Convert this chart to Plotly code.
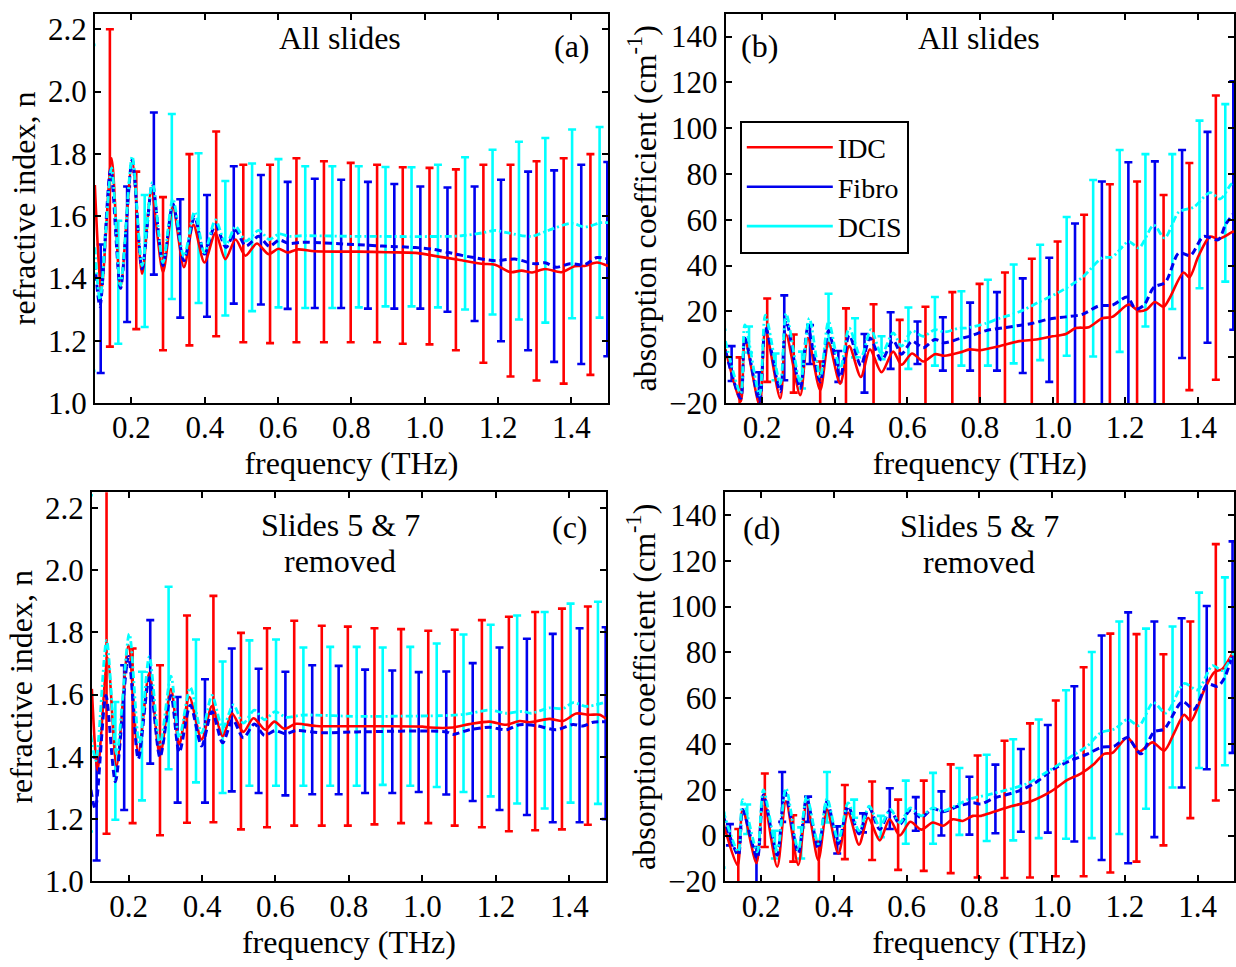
import plotly.graph_objects as go

# ---------------------------------------------------------------------------
# Panel (a): refractive index, all slides
# ---------------------------------------------------------------------------
A_IDC_F = [0.100, 0.118, 0.1456, 0.170, 0.202, 0.229, 0.254, 0.286, 0.313, 0.343,
           0.369, 0.399, 0.429, 0.456, 0.484, 0.511, 0.542, 0.574, 0.601, 0.626,
           0.653, 0.700, 0.820, 0.900, 0.975, 1.038, 1.092, 1.156, 1.192, 1.234,
           1.264, 1.293, 1.328, 1.373, 1.409, 1.436, 1.470, 1.500]
A_IDC_N = [1.700, 1.363, 1.786, 1.373, 1.776, 1.415, 1.680, 1.420, 1.630, 1.436,
           1.572, 1.451, 1.546, 1.462, 1.525, 1.473, 1.512, 1.478, 1.495, 1.483,
           1.493, 1.487, 1.486, 1.484, 1.482, 1.470, 1.460, 1.447, 1.444, 1.420,
           1.425, 1.419, 1.430, 1.420, 1.439, 1.440, 1.451, 1.440]

A_FIB_F = [0.100, 0.114, 0.143, 0.170, 0.202, 0.229, 0.257, 0.286, 0.313, 0.343,
           0.372, 0.399, 0.429, 0.458, 0.484, 0.512, 0.547, 0.576, 0.603, 0.630,
           0.666, 0.820, 0.884, 0.975, 1.020, 1.065, 1.119, 1.192, 1.246, 1.300,
           1.328, 1.359, 1.396, 1.436, 1.470, 1.500]
A_FIB_N = [1.451, 1.310, 1.750, 1.368, 1.781, 1.430, 1.703, 1.441, 1.640, 1.457,
           1.598, 1.478, 1.572, 1.499, 1.554, 1.504, 1.535, 1.503, 1.523, 1.512,
           1.516, 1.508, 1.504, 1.499, 1.494, 1.483, 1.470, 1.457, 1.462, 1.447,
           1.450, 1.436, 1.447, 1.444, 1.467, 1.462]

A_DCIS_F = [0.100, 0.114, 0.1456, 0.170, 0.202, 0.229, 0.257, 0.286, 0.313, 0.343,
            0.372, 0.399, 0.429, 0.458, 0.484, 0.512, 0.547, 0.576, 0.603, 0.630,
            0.666, 0.820, 1.065, 1.101, 1.156, 1.192, 1.228, 1.291, 1.337, 1.400,
            1.437, 1.481, 1.500]
A_DCIS_N = [1.500, 1.331, 1.755, 1.378, 1.792, 1.441, 1.708, 1.451, 1.656, 1.470,
            1.614, 1.483, 1.588, 1.509, 1.567, 1.520, 1.554, 1.525, 1.543, 1.535,
            1.537, 1.535, 1.535, 1.537, 1.546, 1.554, 1.546, 1.535, 1.554, 1.577,
            1.565, 1.579, 1.579]

A_IDC_EB_F = [0.141, 0.213, 0.286, 0.358, 0.431, 0.505, 0.578, 0.650, 0.725, 0.798,
              0.870, 0.940, 1.013, 1.085, 1.160, 1.234, 1.305, 1.379, 1.452]
A_IDC_EB_HI = [2.200, 1.743, 1.661, 1.799, 1.872, 1.765, 1.765, 1.786, 1.776, 1.771,
               1.765, 1.757, 1.755, 1.750, 1.765, 1.765, 1.776, 1.786, 1.799]
A_IDC_EB_LO = [1.181, 1.237, 1.169, 1.185, 1.214, 1.195, 1.192, 1.195, 1.195, 1.195,
               1.195, 1.190, 1.188, 1.169, 1.129, 1.085, 1.072, 1.062, 1.090]

A_FIB_EB_F = [0.116, 0.188, 0.261, 0.333, 0.406, 0.479, 0.553, 0.626, 0.700, 0.772,
              0.845, 0.917, 0.988, 1.062, 1.136, 1.208, 1.282, 1.353, 1.427, 1.498]
A_FIB_EB_HI = [1.509, 1.695, 1.933, 1.654, 1.668, 1.760, 1.732, 1.710, 1.720, 1.717,
               1.710, 1.703, 1.695, 1.692, 1.695, 1.717, 1.743, 1.747, 1.765, 1.774]
A_FIB_EB_LO = [1.096, 1.260, 1.412, 1.274, 1.277, 1.319, 1.316, 1.302, 1.305, 1.305,
               1.303, 1.303, 1.303, 1.293, 1.263, 1.198, 1.169, 1.132, 1.125, 1.150]

A_DCIS_EB_F = [0.091, 0.164, 0.236, 0.310, 0.383, 0.456, 0.529, 0.601, 0.674, 0.748,
               0.820, 0.893, 0.964, 1.036, 1.110, 1.185, 1.257, 1.329, 1.402, 1.477]
A_DCIS_EB_HI = [2.150, 1.585, 1.668, 1.928, 1.802, 1.713, 1.769, 1.783, 1.760, 1.760,
                1.760, 1.758, 1.757, 1.765, 1.789, 1.813, 1.839, 1.851, 1.878, 1.886]
A_DCIS_EB_LO = [1.103, 1.190, 1.244, 1.334, 1.321, 1.281, 1.295, 1.307, 1.305, 1.305,
                1.307, 1.310, 1.310, 1.307, 1.300, 1.284, 1.268, 1.258, 1.272, 1.274]

# ---------------------------------------------------------------------------
# Panel (b): absorption coefficient, all slides
# ---------------------------------------------------------------------------
B_IDC_F = [0.099, 0.141, 0.1525, 0.193, 0.209, 0.250, 0.266, 0.305, 0.326, 0.360,
           0.383, 0.415, 0.440, 0.472, 0.497, 0.529, 0.561, 0.584, 0.613, 0.644,
           0.676, 0.703, 0.744, 0.772, 0.799, 0.854, 0.909, 0.955, 1.000, 1.037,
           1.064, 1.100, 1.137, 1.165, 1.210, 1.238, 1.260, 1.282, 1.306, 1.322,
           1.361, 1.377, 1.402, 1.434, 1.457, 1.492, 1.500]
B_IDC_A = [3.4, -19.4, 7.7, -21.0, 12.0, -18.0, 9.9, -16.6, 8.4, -14.4,
           6.3, -11.6, 4.8, -8.7, 3.4, -6.6, 2.4, -3.3, 1.6, -1.9,
           1.3, 0.6, 2.0, 3.4, 3.0, 4.8, 7.0, 7.7, 9.1, 10.1,
           12.7, 13.1, 17.0, 17.6, 23.0, 20.1, 20.9, 24.1, 22.0, 25.6,
           37.0, 34.8, 44.1, 52.7, 51.6, 54.4, 55.0]

B_FIB_F = [0.099, 0.141, 0.1525, 0.193, 0.209, 0.250, 0.266, 0.305, 0.326, 0.360,
           0.383, 0.415, 0.440, 0.472, 0.497, 0.529, 0.561, 0.584, 0.613, 0.644,
           0.676, 0.703, 0.744, 0.772, 0.817, 0.872, 0.945, 0.991, 1.037, 1.082,
           1.128, 1.165, 1.206, 1.229, 1.252, 1.279, 1.311, 1.348, 1.380, 1.416,
           1.457, 1.476, 1.500]
B_FIB_A = [2.7, -18.0, 8.4, -19.4, 13.4, -15.1, 16.3, -13.7, 12.7, -10.8,
           11.6, -8.7, 9.6, -3.7, 8.4, -1.3, 7.3, 1.3, 7.0, 4.1,
           7.7, 6.3, 8.1, 9.1, 11.6, 13.0, 14.8, 16.7, 17.6, 18.7,
           22.4, 22.7, 26.3, 21.0, 22.7, 30.5, 32.7, 45.5, 44.4, 52.7,
           51.3, 57.7, 63.0]

B_DCIS_F = [0.099, 0.141, 0.1525, 0.193, 0.209, 0.250, 0.266, 0.305, 0.330, 0.360,
            0.383, 0.415, 0.440, 0.472, 0.500, 0.529, 0.561, 0.584, 0.613, 0.644,
            0.676, 0.703, 0.744, 0.762, 0.817, 0.854, 0.909, 0.963, 1.018, 1.082,
            1.137, 1.165, 1.210, 1.238, 1.279, 1.309, 1.348, 1.389, 1.434, 1.462,
            1.492, 1.500]
B_DCIS_A = [7.0, -15.8, 14.1, -16.6, 18.4, -11.6, 19.1, -10.8, 17.0, -8.7,
            15.6, -5.1, 12.7, -0.1, 12.0, 1.3, 10.6, 4.8, 11.5, 9.1,
            12.0, 11.0, 12.7, 12.7, 14.8, 17.0, 19.8, 24.1, 28.4, 34.8,
            43.4, 43.8, 50.5, 47.7, 57.7, 52.0, 63.4, 65.5, 71.9, 69.1,
            75.5, 76.0]

B_IDC_EB_F = [0.138, 0.214, 0.287, 0.360, 0.431, 0.507, 0.579, 0.650, 0.724, 0.799,
              0.869, 0.943, 1.014, 1.087, 1.158, 1.233, 1.306, 1.377, 1.450]
B_IDC_EB_HI = [-0.1, 25.6, 9.9, -1.9, 21.3, 23.1, 16.3, 22.0, 28.4, 32.0,
               37.0, 43.0, 50.5, 62.2, 75.5, 76.7, 70.8, 84.8, 114.3]
B_IDC_EB_LO = [-36.0, -10.8, -15.5, -27.0, -22.0, -31.0, -22.0, -24.0, -24.5, -26.0,
               -26.0, -28.0, -31.0, -36.0, -40.0, -37.0, -27.0, -14.4, -9.9]

B_FIB_EB_F = [0.116, 0.191, 0.261, 0.332, 0.410, 0.482, 0.554, 0.628, 0.698, 0.773,
              0.847, 0.918, 0.991, 1.062, 1.136, 1.209, 1.282, 1.357, 1.427, 1.498]
B_FIB_EB_HI = [4.8, -6.6, 27.0, 14.0, 2.7, 10.1, 19.6, 15.6, 17.4, 23.8,
               28.4, 34.4, 43.4, 58.4, 76.7, 85.1, 85.5, 90.5, 98.4, 120.5]
B_FIB_EB_LO = [-10.4, -31.0, -10.1, -3.0, -10.8, -15.5, -5.1, -3.0, -5.9, -5.9,
               -5.9, -6.9, -10.8, -22.0, -31.7, -33.0, -24.5, -0.4, 6.3, 12.0]

B_DCIS_EB_F = [0.091, 0.164, 0.237, 0.310, 0.383, 0.456, 0.529, 0.603, 0.676, 0.749,
               0.822, 0.893, 0.966, 1.039, 1.112, 1.185, 1.256, 1.330, 1.405, 1.476]
B_DCIS_EB_HI = [12.0, 13.4, 1.6, 2.4, 27.7, 17.0, 9.1, 21.7, 26.3, 28.8,
                33.8, 40.5, 49.1, 61.2, 77.4, 90.5, 88.7, 88.7, 103.3, 110.5]
B_DCIS_EB_LO = [-25.0, 2.0, -10.1, -13.7, 4.8, -0.1, -0.9, -5.1, -3.7, -3.7,
                -3.7, -2.7, -1.3, 0.6, 0.3, 2.3, 13.4, 21.0, 30.1, 33.0]

# ---------------------------------------------------------------------------
# Panel (c): refractive index, slides 5 & 7 removed
# ---------------------------------------------------------------------------
C_IDC_F = [0.100, 0.1156, 0.143, 0.1674, 0.1997, 0.2265, 0.2564, 0.2855, 0.3154, 0.338,
           0.3654, 0.399, 0.4272, 0.4562, 0.4817, 0.5126, 0.540, 0.5725, 0.597, 0.6243,
           0.656, 0.711, 0.820, 1.000, 1.020, 1.083, 1.128, 1.183, 1.228, 1.265,
           1.292, 1.346, 1.383, 1.419, 1.455, 1.483, 1.500]
C_IDC_N = [1.618, 1.357, 1.717, 1.370, 1.758, 1.414, 1.670, 1.404, 1.618, 1.440,
           1.592, 1.456, 1.563, 1.466, 1.539, 1.480, 1.524, 1.487, 1.513, 1.490,
           1.506, 1.499, 1.498, 1.497, 1.494, 1.494, 1.505, 1.513, 1.503, 1.515,
           1.511, 1.522, 1.515, 1.539, 1.535, 1.535, 1.522]

C_FIB_F = [0.0975, 0.1093, 0.1383, 0.164, 0.1997, 0.2265, 0.2564, 0.2855, 0.3154, 0.338,
           0.3681, 0.399, 0.4272, 0.4562, 0.4835, 0.5126, 0.5425, 0.5698, 0.599, 0.627,
           0.656, 0.729, 0.820, 1.065, 1.083, 1.128, 1.183, 1.228, 1.265, 1.310,
           1.365, 1.410, 1.437, 1.465, 1.500]
C_FIB_N = [1.294, 1.232, 1.597, 1.320, 1.722, 1.393, 1.654, 1.398, 1.597, 1.414,
           1.566, 1.435, 1.545, 1.445, 1.519, 1.461, 1.505, 1.469, 1.484, 1.474,
           1.484, 1.477, 1.480, 1.480, 1.472, 1.487, 1.495, 1.487, 1.503, 1.500,
           1.487, 1.504, 1.499, 1.511, 1.513]

C_DCIS_F = [0.0975, 0.111, 0.1402, 0.1674, 0.2019, 0.2292, 0.2564, 0.2855, 0.3154, 0.338,
            0.3681, 0.399, 0.4272, 0.4562, 0.4853, 0.5126, 0.5425, 0.5698, 0.599, 0.6288,
            0.674, 0.820, 1.074, 1.119, 1.183, 1.228, 1.274, 1.296, 1.346, 1.383,
            1.410, 1.446, 1.500]
C_DCIS_N = [1.470, 1.388, 1.774, 1.409, 1.795, 1.440, 1.722, 1.440, 1.659, 1.461,
            1.623, 1.477, 1.597, 1.492, 1.567, 1.508, 1.550, 1.519, 1.545, 1.527,
            1.534, 1.530, 1.533, 1.537, 1.550, 1.540, 1.546, 1.540, 1.557, 1.555,
            1.574, 1.562, 1.576]

C_IDC_EB_F = [0.140, 0.211, 0.2855, 0.359, 0.431, 0.506, 0.577, 0.651, 0.726, 0.797,
              0.8695, 0.942, 1.016, 1.088, 1.162, 1.2355, 1.307, 1.380, 1.4505]
C_IDC_EB_HI = [2.300, 1.748, 1.694, 1.854, 1.917, 1.798, 1.813, 1.837, 1.821, 1.818,
               1.813, 1.810, 1.805, 1.808, 1.839, 1.850, 1.865, 1.876, 1.883]
C_IDC_EB_LO = [1.153, 1.187, 1.148, 1.188, 1.190, 1.167, 1.174, 1.179, 1.179, 1.179,
               1.183, 1.187, 1.187, 1.179, 1.174, 1.161, 1.164, 1.167, 1.182]

C_FIB_EB_F = [0.113, 0.188, 0.259, 0.3335, 0.408, 0.481, 0.554, 0.627, 0.700, 0.772,
              0.844, 0.918, 0.990, 1.065, 1.137, 1.210, 1.2845, 1.355, 1.428, 1.499]
C_FIB_EB_HI = [1.398, 1.694, 1.839, 1.592, 1.649, 1.748, 1.683, 1.673, 1.694, 1.692,
               1.680, 1.677, 1.672, 1.674, 1.701, 1.751, 1.779, 1.795, 1.813, 1.816]
C_FIB_EB_LO = [1.067, 1.229, 1.378, 1.253, 1.253, 1.289, 1.284, 1.276, 1.280, 1.280,
               1.284, 1.284, 1.287, 1.279, 1.258, 1.229, 1.213, 1.190, 1.190, 1.200]

C_DCIS_EB_F = [0.092, 0.164, 0.2365, 0.309, 0.3835, 0.456, 0.529, 0.6015, 0.676, 0.749,
               0.821, 0.892, 0.967, 1.039, 1.112, 1.186, 1.258, 1.333, 1.4035, 1.478]
C_DCIS_EB_HI = [2.240, 1.576, 1.673, 1.946, 1.777, 1.706, 1.774, 1.777, 1.751, 1.753,
                1.753, 1.751, 1.753, 1.764, 1.793, 1.824, 1.854, 1.865, 1.892, 1.898]
C_DCIS_EB_LO = [1.160, 1.198, 1.260, 1.360, 1.318, 1.284, 1.307, 1.307, 1.307, 1.307,
                1.307, 1.310, 1.307, 1.303, 1.287, 1.273, 1.250, 1.234, 1.253, 1.249]

# ---------------------------------------------------------------------------
# Panel (d): absorption coefficient, slides 5 & 7 removed
# ---------------------------------------------------------------------------
D_IDC_F = [0.0957, 0.135, 0.149, 0.187, 0.206, 0.244, 0.268, 0.302, 0.325, 0.357,
           0.381, 0.412, 0.439, 0.469, 0.494, 0.526, 0.553, 0.581, 0.610, 0.640,
           0.672, 0.700, 0.727, 0.754, 0.782, 0.8045, 0.832, 0.887, 0.942, 0.997,
           1.042, 1.079, 1.116, 1.143, 1.166, 1.207, 1.239, 1.276, 1.308, 1.336,
           1.363, 1.381, 1.418, 1.446, 1.468, 1.499]
D_IDC_A = [5.7, -13.0, 11.4, -12.0, 16.4, -13.6, 15.0, -12.8, 14.3, -10.7,
           11.4, -7.8, 10.0, -4.0, 7.8, -2.1, 7.1, 0.0, 6.0, 2.6,
           5.7, 4.3, 7.1, 6.4, 8.6, 8.6, 10.0, 12.8, 15.0, 19.3,
           24.3, 27.1, 31.4, 35.7, 36.1, 42.8, 36.7, 40.7, 37.1, 45.0,
           52.8, 50.0, 63.5, 71.4, 72.8, 80.6]

D_FIB_F = [0.0957, 0.137, 0.149, 0.189, 0.206, 0.244, 0.265, 0.302, 0.325, 0.357,
           0.381, 0.412, 0.439, 0.469, 0.497, 0.526, 0.555, 0.581, 0.610, 0.640,
           0.672, 0.700, 0.741, 0.782, 0.8045, 0.841, 0.905, 0.951, 1.006, 1.052,
           1.098, 1.134, 1.171, 1.207, 1.244, 1.280, 1.308, 1.358, 1.390, 1.427,
           1.455, 1.473, 1.499]
D_FIB_A = [8.6, -8.6, 11.4, -10.0, 17.8, -8.6, 19.3, -7.8, 16.4, -5.7,
           15.0, -3.6, 12.8, 0.7, 12.1, 2.6, 11.1, 5.0, 11.1, 7.8,
           11.8, 10.4, 12.8, 14.3, 13.8, 16.4, 19.3, 22.8, 29.3, 32.8,
           35.7, 38.5, 39.1, 42.8, 35.7, 45.3, 46.5, 58.5, 55.2, 66.1,
           65.2, 68.6, 80.6]

D_DCIS_F = [0.0957, 0.137, 0.149, 0.189, 0.206, 0.244, 0.268, 0.302, 0.325, 0.357,
            0.381, 0.412, 0.439, 0.469, 0.497, 0.526, 0.555, 0.581, 0.610, 0.640,
            0.672, 0.700, 0.741, 0.768, 0.823, 0.878, 0.933, 0.979, 1.042, 1.098,
            1.134, 1.171, 1.207, 1.239, 1.278, 1.313, 1.363, 1.400, 1.441, 1.468,
            1.499]
D_DCIS_A = [10.7, -7.1, 15.7, -7.1, 20.0, -6.4, 20.7, -6.4, 17.1, -3.6,
            16.1, -2.1, 14.3, 2.1, 12.8, 4.0, 11.4, 5.7, 12.1, 8.6,
            12.1, 10.7, 13.6, 15.7, 17.8, 20.0, 22.8, 27.1, 33.5, 39.3,
            45.0, 46.5, 50.7, 48.0, 58.1, 53.5, 66.4, 63.6, 74.2, 72.1,
            79.9]

D_IDC_EB_F = [0.137, 0.210, 0.288, 0.3585, 0.430, 0.505, 0.5765, 0.647, 0.721, 0.795,
              0.869, 0.939, 1.010, 1.0865, 1.160, 1.232, 1.306, 1.380, 1.450]
D_IDC_EB_HI = [2.9, 27.1, 8.9, -2.6, 22.1, 23.6, 15.7, 24.0, 31.1, 35.0,
               41.4, 49.0, 59.0, 73.5, 88.2, 88.0, 79.2, 93.5, 127.3]
D_IDC_EB_LO = [-25.0, -5.0, -11.4, -20.7, -10.3, -10.7, -15.0, -15.4, -16.4, -18.3,
               -18.5, -18.3, -17.8, -17.8, -16.1, -11.4, -4.3, 7.6, 15.3]

D_FIB_EB_F = [0.114, 0.187, 0.2577, 0.329, 0.409, 0.480, 0.5536, 0.625, 0.6955, 0.7725,
              0.844, 0.914, 0.988, 1.061, 1.136, 1.209, 1.281, 1.356, 1.425, 1.496]
D_FIB_EB_HI = [5.0, -5.0, 27.8, 17.0, 4.0, 9.7, 20.7, 16.8, 19.3, 25.7,
               31.0, 37.8, 48.3, 65.2, 87.4, 97.5, 93.5, 94.9, 100.3, 128.5]
D_FIB_EB_LO = [-4.3, -25.0, 6.0, 6.0, -7.8, 1.4, 2.9, 2.1, 0.0, 0.4,
               1.0, 1.7, 1.3, -2.6, -10.7, -12.1, -0.7, 21.0, 29.0, 36.1]

D_DCIS_EB_F = [0.091, 0.1615, 0.2376, 0.310, 0.381, 0.4555, 0.529, 0.5975, 0.6725, 0.745,
               0.820, 0.893, 0.963, 1.038, 1.109, 1.1846, 1.258, 1.331, 1.404, 1.475]
D_DCIS_EB_HI = [10.0, 13.6, 2.1, 3.6, 27.8, 15.7, 8.6, 24.0, 27.4, 29.5,
                35.3, 42.1, 50.7, 63.5, 80.2, 93.5, 90.4, 91.3, 106.1, 112.8]
D_DCIS_EB_LO = [-14.0, 0.7, -10.0, -10.0, 5.7, 7.8, -0.7, -3.6, -3.6, 0.3,
                -2.4, -2.1, -1.1, -1.4, -1.1, 0.7, 11.7, 21.0, 29.5, 30.7]

# ---------------------------------------------------------------------------
# Styling
# ---------------------------------------------------------------------------
FONT = "Liberation Serif"
RED = "#ff0000"
BLUE = "#0000ee"
CYAN = "#00ffff"
W, H = 1236, 967

STYLE = {
    "IDC": dict(color=RED, width=2.6, dash="solid"),
    "Fibro": dict(color=BLUE, width=3.0, dash="7px,4px"),
    "DCIS": dict(color=CYAN, width=2.8, dash="7px,3px,2px,3px"),
}

PANELS = [
    ("x", "y", {
        "IDC": (A_IDC_F, A_IDC_N, A_IDC_EB_F, A_IDC_EB_HI, A_IDC_EB_LO),
        "Fibro": (A_FIB_F, A_FIB_N, A_FIB_EB_F, A_FIB_EB_HI, A_FIB_EB_LO),
        "DCIS": (A_DCIS_F, A_DCIS_N, A_DCIS_EB_F, A_DCIS_EB_HI, A_DCIS_EB_LO),
    }),
    ("x2", "y2", {
        "IDC": (B_IDC_F, B_IDC_A, B_IDC_EB_F, B_IDC_EB_HI, B_IDC_EB_LO),
        "Fibro": (B_FIB_F, B_FIB_A, B_FIB_EB_F, B_FIB_EB_HI, B_FIB_EB_LO),
        "DCIS": (B_DCIS_F, B_DCIS_A, B_DCIS_EB_F, B_DCIS_EB_HI, B_DCIS_EB_LO),
    }),
    ("x3", "y3", {
        "IDC": (C_IDC_F, C_IDC_N, C_IDC_EB_F, C_IDC_EB_HI, C_IDC_EB_LO),
        "Fibro": (C_FIB_F, C_FIB_N, C_FIB_EB_F, C_FIB_EB_HI, C_FIB_EB_LO),
        "DCIS": (C_DCIS_F, C_DCIS_N, C_DCIS_EB_F, C_DCIS_EB_HI, C_DCIS_EB_LO),
    }),
    ("x4", "y4", {
        "IDC": (D_IDC_F, D_IDC_A, D_IDC_EB_F, D_IDC_EB_HI, D_IDC_EB_LO),
        "Fibro": (D_FIB_F, D_FIB_A, D_FIB_EB_F, D_FIB_EB_HI, D_FIB_EB_LO),
        "DCIS": (D_DCIS_F, D_DCIS_A, D_DCIS_EB_F, D_DCIS_EB_HI, D_DCIS_EB_LO),
    }),
]

fig = go.Figure()

# error bars (mean +/- spread), drawn beneath the mean curves
for xa, ya, series in PANELS:
    for name in ["IDC", "Fibro", "DCIS"]:
        _, _, ef, ehi, elo = series[name]
        mid = [(h + l) / 2 for h, l in zip(ehi, elo)]
        half = [(h - l) / 2 for h, l in zip(ehi, elo)]
        fig.add_trace(go.Scatter(
            x=ef, y=mid, xaxis=xa, yaxis=ya, mode="markers",
            marker=dict(size=1, color="rgba(0,0,0,0)"),
            error_y=dict(type="data", array=half, visible=True,
                         color=STYLE[name]["color"], thickness=2.6, width=4),
            showlegend=False, hoverinfo="skip"))

# mean curves
for xa, ya, series in PANELS:
    for name in ["IDC", "Fibro", "DCIS"]:
        cf, cv, _, _, _ = series[name]
        st = STYLE[name]
        fig.add_trace(go.Scatter(
            x=cf, y=cv, xaxis=xa, yaxis=ya, mode="lines",
            line=dict(color=st["color"], width=st["width"], dash=st["dash"],
                      shape="spline", smoothing=0.8),
            showlegend=False, name=name))

# legend keys (solid lines)
for name in ["IDC", "Fibro", "DCIS"]:
    fig.add_trace(go.Scatter(
        x=[None], y=[None], xaxis="x2", yaxis="y2", mode="lines",
        line=dict(color=STYLE[name]["color"], width=2.6), name=name,
        showlegend=True))

tickfont = dict(family=FONT, size=31, color="black")
titlefont = dict(family=FONT, size=32, color="black")


def xaxis(domain, anchor):
    return dict(domain=domain, anchor=anchor, range=[0.1, 1.5], tick0=0.2, dtick=0.2,
                tickformat=".1f", ticks="inside", ticklen=6, tickwidth=1.5,
                tickcolor="black", showline=True, linecolor="black", linewidth=2,
                mirror="ticks", showgrid=False, zeroline=False, tickfont=tickfont,
                ticklabelstandoff=-4,
                title=dict(text="frequency (THz)", font=titlefont, standoff=0))


def yaxis(domain, anchor, rng, tick0, dtick, fmt, title):
    return dict(domain=domain, anchor=anchor, range=rng, tick0=tick0, dtick=dtick,
                tickformat=fmt, ticks="inside", ticklen=6, tickwidth=1.5,
                tickcolor="black", showline=True, linecolor="black", linewidth=2,
                mirror="ticks", showgrid=False, zeroline=False, tickfont=tickfont,
                title=dict(text=title, font=titlefont, standoff=3))


top = [1 - 410 / H, 1 - 13 / H]
bot = [1 - 898 / H, 1 - 501 / H]
left_a = [95 / W, 609 / W]
right_b = [727 / W, 1.0]
left_c = [92 / W, 607 / W]
right_d = [726 / W, 1.0]

n_title = "refractive index, n"
a_title = "absorption coefficient (cm<sup>-1</sup>)"

fig.update_layout(
    width=W, height=H,
    margin=dict(l=0, r=0, t=0, b=0),
    paper_bgcolor="white", plot_bgcolor="white",
    font=dict(family=FONT, color="black"),
    xaxis=xaxis(left_a, "y"),
    yaxis=yaxis(top, "x", [1.0, 2.25], 1.0, 0.2, ".1f", n_title),
    xaxis2=xaxis(right_b, "y2"),
    yaxis2=yaxis(top, "x2", [-20, 150], 0, 20, "d", a_title),
    xaxis3=xaxis(left_c, "y3"),
    yaxis3=yaxis(bot, "x3", [1.0, 2.25], 1.0, 0.2, ".1f", n_title),
    xaxis4=xaxis(right_d, "y4"),
    yaxis4=yaxis(bot, "x4", [-20, 150], 0, 20, "d", a_title),
    legend=dict(x=741 / W, y=1 - 122 / H, xanchor="left", yanchor="top",
                bordercolor="black", borderwidth=2, bgcolor="white",
                font=dict(family=FONT, size=28, color="black"),
                itemwidth=86, tracegroupgap=0),
    showlegend=True,
)

annot_font = dict(family=FONT, size=32, color="black")
notes = [
    (341, 38, "All slides"), (573, 46, "(a)"),
    (981, 38, "All slides"), (761, 46, "(b)"),
    (341, 535, "Slides 5 &amp; 7"), (341, 571, "removed"), (571, 537, "(c)"),
    (981, 536, "Slides 5 &amp; 7"), (981, 572, "removed"), (763, 538, "(d)"),
]
for px, py, txt in notes:
    fig.add_annotation(x=px / W, y=1 - py / H, xref="paper", yref="paper",
                       text=txt, showarrow=False, font=annot_font,
                       xanchor="center", yanchor="middle")

fig.write_html("out.html")
